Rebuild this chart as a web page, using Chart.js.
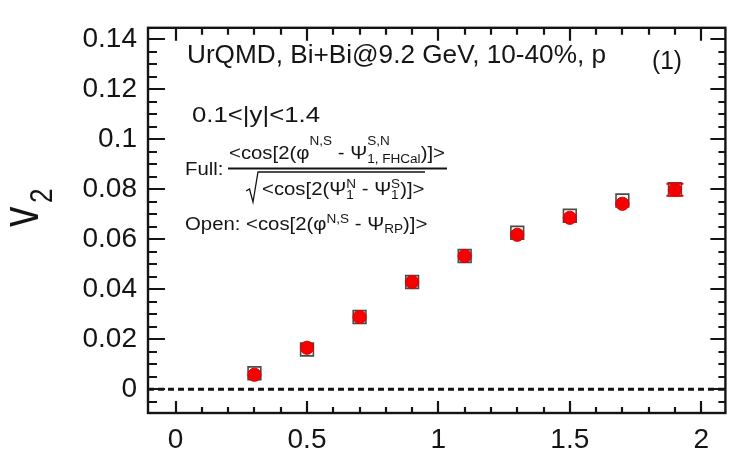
<!DOCTYPE html>
<html><head><meta charset="utf-8">
<script src="https://cdn.jsdelivr.net/npm/chart.js@4.4.1/dist/chart.umd.min.js"></script>
<style>html,body{margin:0;padding:0;background:#fff;}#wrap{width:736px;height:455px;}</style>
</head><body><div id="wrap"><canvas id="c" width="736" height="455"></canvas></div>
<script>
// ---- data ----
const rapidity   = [0.3, 0.5, 0.7, 0.9, 1.1, 1.3, 1.5, 1.7, 1.9];
const v2Full     = [0.0058, 0.0166, 0.0289, 0.0429, 0.0533, 0.0618, 0.0686, 0.0742, 0.0798];
const v2FullErr  = [0, 0, 0, 0, 0, 0, 0, 0, 0.0024];
const v2Open     = [0.0064, 0.0159, 0.0289, 0.0429, 0.0533, 0.0626, 0.0694, 0.0755, 0.0800];
const xTicks     = [0, 0.5, 1, 1.5, 2];
const yTicks     = [0, 0.02, 0.04, 0.06, 0.08, 0.1, 0.12, 0.14];
const xRange     = [-0.105, 2.092];
const yRange     = [-0.0095, 0.1446];

const FONT = '"Liberation Sans", Arial, Helvetica, sans-serif';
const INK = '#141414';

function txt(ctx, s, x, y, size, w) {
  ctx.font = size + 'px ' + FONT;
  const m = ctx.measureText(s).width;
  const sx = w ? w / m : 1;
  ctx.save(); ctx.translate(x, y); ctx.scale(sx, 1); ctx.fillText(s, 0, 0); ctx.restore();
}
// runs: {t, s, dy, stack}
function flow(ctx, runs, x, y, sx) {
  let cx = x, stackW = 0;
  for (const r of runs) {
    ctx.font = r.s + 'px ' + FONT;
    const w = ctx.measureText(r.t).width * sx;
    ctx.save(); ctx.translate(cx, y + (r.dy || 0)); ctx.scale(sx, 1); ctx.fillText(r.t, 0, 0); ctx.restore();
    if (r.stack) { stackW = Math.max(stackW, w); }
    else { cx += Math.max(w, stackW); stackW = 0; }
  }
  return cx;
}

const decor = {
  id: 'decor',
  afterDatasetsDraw(chart) {
    const ctx = chart.ctx, xs = chart.scales.x, ys = chart.scales.y;
    ctx.save();
    ctx.strokeStyle = '#ee0000'; ctx.lineWidth = 2;
    rapidity.forEach((r, i) => {
      const e = v2FullErr[i]; if (!e) return;
      const px = xs.getPixelForValue(r);
      const y1 = ys.getPixelForValue(v2Full[i] + e), y2 = ys.getPixelForValue(v2Full[i] - e);
      ctx.beginPath();
      ctx.moveTo(px, y1); ctx.lineTo(px, y2);
      ctx.moveTo(px - 8.5, y1); ctx.lineTo(px + 8.5, y1);
      ctx.moveTo(px - 8.5, y2); ctx.lineTo(px + 8.5, y2);
      ctx.stroke();
    });
    ctx.restore();
  },
  afterDraw(chart) {
    const ctx = chart.ctx, a = chart.chartArea, xs = chart.scales.x, ys = chart.scales.y;
    ctx.save();
    ctx.strokeStyle = INK; ctx.fillStyle = INK;
    ctx.lineWidth = 2.4;
    ctx.strokeRect(a.left, a.top, a.right - a.left, a.bottom - a.top);
    ctx.lineWidth = 2.2;
    ctx.beginPath();
    for (let k = -2; k <= 30; k++) {
      const v = k * 0.005;
      if (v <= yRange[0] || v >= yRange[1]) continue;
      const major = (k % 4 === 0);
      const len = major ? 17 : 9;
      const p = Math.round(ys.getPixelForValue(v));
      ctx.moveTo(a.left, p); ctx.lineTo(a.left + len, p);
      ctx.moveTo(a.right, p); ctx.lineTo(a.right - (major ? 15 : 7), p);
    }
    for (let k = -2; k <= 22; k++) {
      const v = k * 0.1;
      if (v <= xRange[0] + 0.01 || v >= xRange[1] - 0.01) continue;
      const major = (k % 5 === 0);
      const p = Math.round(xs.getPixelForValue(v));
      ctx.moveTo(p, a.bottom); ctx.lineTo(p, a.bottom - (major ? 12 : 6));
      ctx.moveTo(p, a.top); ctx.lineTo(p, a.top + (major ? 13 : 7));
    }
    ctx.stroke();

    // y axis title  v_2
    ctx.save();
    ctx.translate(38, 227); ctx.rotate(-Math.PI / 2);
    ctx.save(); ctx.scale(1, 1.3); ctx.font = '41px ' + FONT; ctx.fillText('v', 0, 0); ctx.restore();
    ctx.save(); ctx.translate(24, 14); ctx.scale(1, 1.2); ctx.font = '26px ' + FONT; ctx.fillText('2', 0, 0); ctx.restore();
    ctx.restore();

    ctx.fillStyle = '#151515';
    txt(ctx, 'UrQMD, Bi+Bi@9.2 GeV, 10-40%, p', 187, 63, 25, 419);
    txt(ctx, '(1)', 652, 69, 25, 30);
    txt(ctx, '0.1<|y|<1.4', 192, 122, 22, 128);
    const SX = 1.13;
    flow(ctx, [{t: 'Full:', s: 18}], 185, 175, SX);
    flow(ctx, [
      {t: '<cos[2(', s: 18}, {t: 'φ', s: 18}, {t: 'N,S', s: 12, dy: -14},
      {t: ' - ', s: 18}, {t: 'Ψ', s: 18},
      {t: 'S,N', s: 12, dy: -14, stack: true}, {t: '1, FHCal', s: 12, dy: 4},
      {t: ')]>', s: 18}
    ], 229, 159, SX);
    ctx.lineWidth = 1.8;
    ctx.beginPath(); ctx.moveTo(228, 168.5); ctx.lineTo(447, 168.5); ctx.stroke();
    ctx.lineWidth = 1.3;
    ctx.beginPath();
    ctx.moveTo(246, 191); ctx.lineTo(249.5, 189); ctx.lineTo(253, 202); ctx.lineTo(258, 172); ctx.lineTo(425, 172);
    ctx.stroke();
    flow(ctx, [
      {t: '<cos[2(', s: 18}, {t: 'Ψ', s: 18},
      {t: 'N', s: 12, dy: -7, stack: true}, {t: '1', s: 12, dy: 4},
      {t: ' - ', s: 18}, {t: 'Ψ', s: 18},
      {t: 'S', s: 12, dy: -7, stack: true}, {t: '1', s: 12, dy: 4},
      {t: ')]>', s: 18}
    ], 262, 195, SX);
    flow(ctx, [
      {t: 'Open: <cos[2(', s: 18}, {t: 'φ', s: 18}, {t: 'N,S', s: 12, dy: -7},
      {t: ' - ', s: 18}, {t: 'Ψ', s: 18}, {t: 'RP', s: 12, dy: 3},
      {t: ')]>', s: 18}
    ], 185, 230, SX);
    ctx.restore();
  }
};

const tickFont = {family: FONT, size: 28};
new Chart(document.getElementById('c'), {
  type: 'scatter',
  data: {
    datasets: [
      { label: 'Full', order: 0,
        data: rapidity.map((r, i) => ({x: r, y: v2Full[i]})),
        pointStyle: 'circle', pointRadius: 6.6, backgroundColor: '#f60000', borderColor: '#e00000', borderWidth: 1 },
      { label: 'Open', order: 1,
        data: rapidity.map((r, i) => ({x: r, y: v2Open[i]})),
        pointStyle: 'rect', pointRadius: 9, backgroundColor: '#ffffff', borderColor: '#4a4a4a', borderWidth: 1.6 },
      { label: 'zero', order: 2, type: 'line',
        data: xRange.map(x => ({x: x, y: 0})),
        showLine: true, pointRadius: 0, borderColor: INK, borderWidth: 3, borderDash: [6, 4], fill: false }
    ]
  },
  options: {
    responsive: false, animation: false, devicePixelRatio: 1,
    layout: {padding: {top: 7, right: 6, left: 0, bottom: 0}},
    plugins: {legend: {display: false}, tooltip: {enabled: false}},
    scales: {
      x: { type: 'linear', min: xRange[0], max: xRange[1],
        afterBuildTicks: s => { s.ticks = xTicks.map(v => ({value: v})); },
        afterFit: s => { s.height = 42; },
        ticks: {font: tickFont, color: INK, padding: 10, maxRotation: 0, autoSkip: false,
          callback: v => String(Math.round(v * 10) / 10)},
        grid: {display: false, drawTicks: false}, border: {display: false} },
      y: { type: 'linear', min: yRange[0], max: yRange[1],
        afterBuildTicks: s => { s.ticks = yTicks.map(v => ({value: v})); },
        afterFit: s => { s.width = 148; },
        ticks: {font: tickFont, color: INK, padding: 11, autoSkip: false,
          callback: v => String(Math.round(v * 100) / 100)},
        grid: {display: false, drawTicks: false}, border: {display: false} }
    }
  },
  plugins: [decor]
});
</script>
</body></html>
